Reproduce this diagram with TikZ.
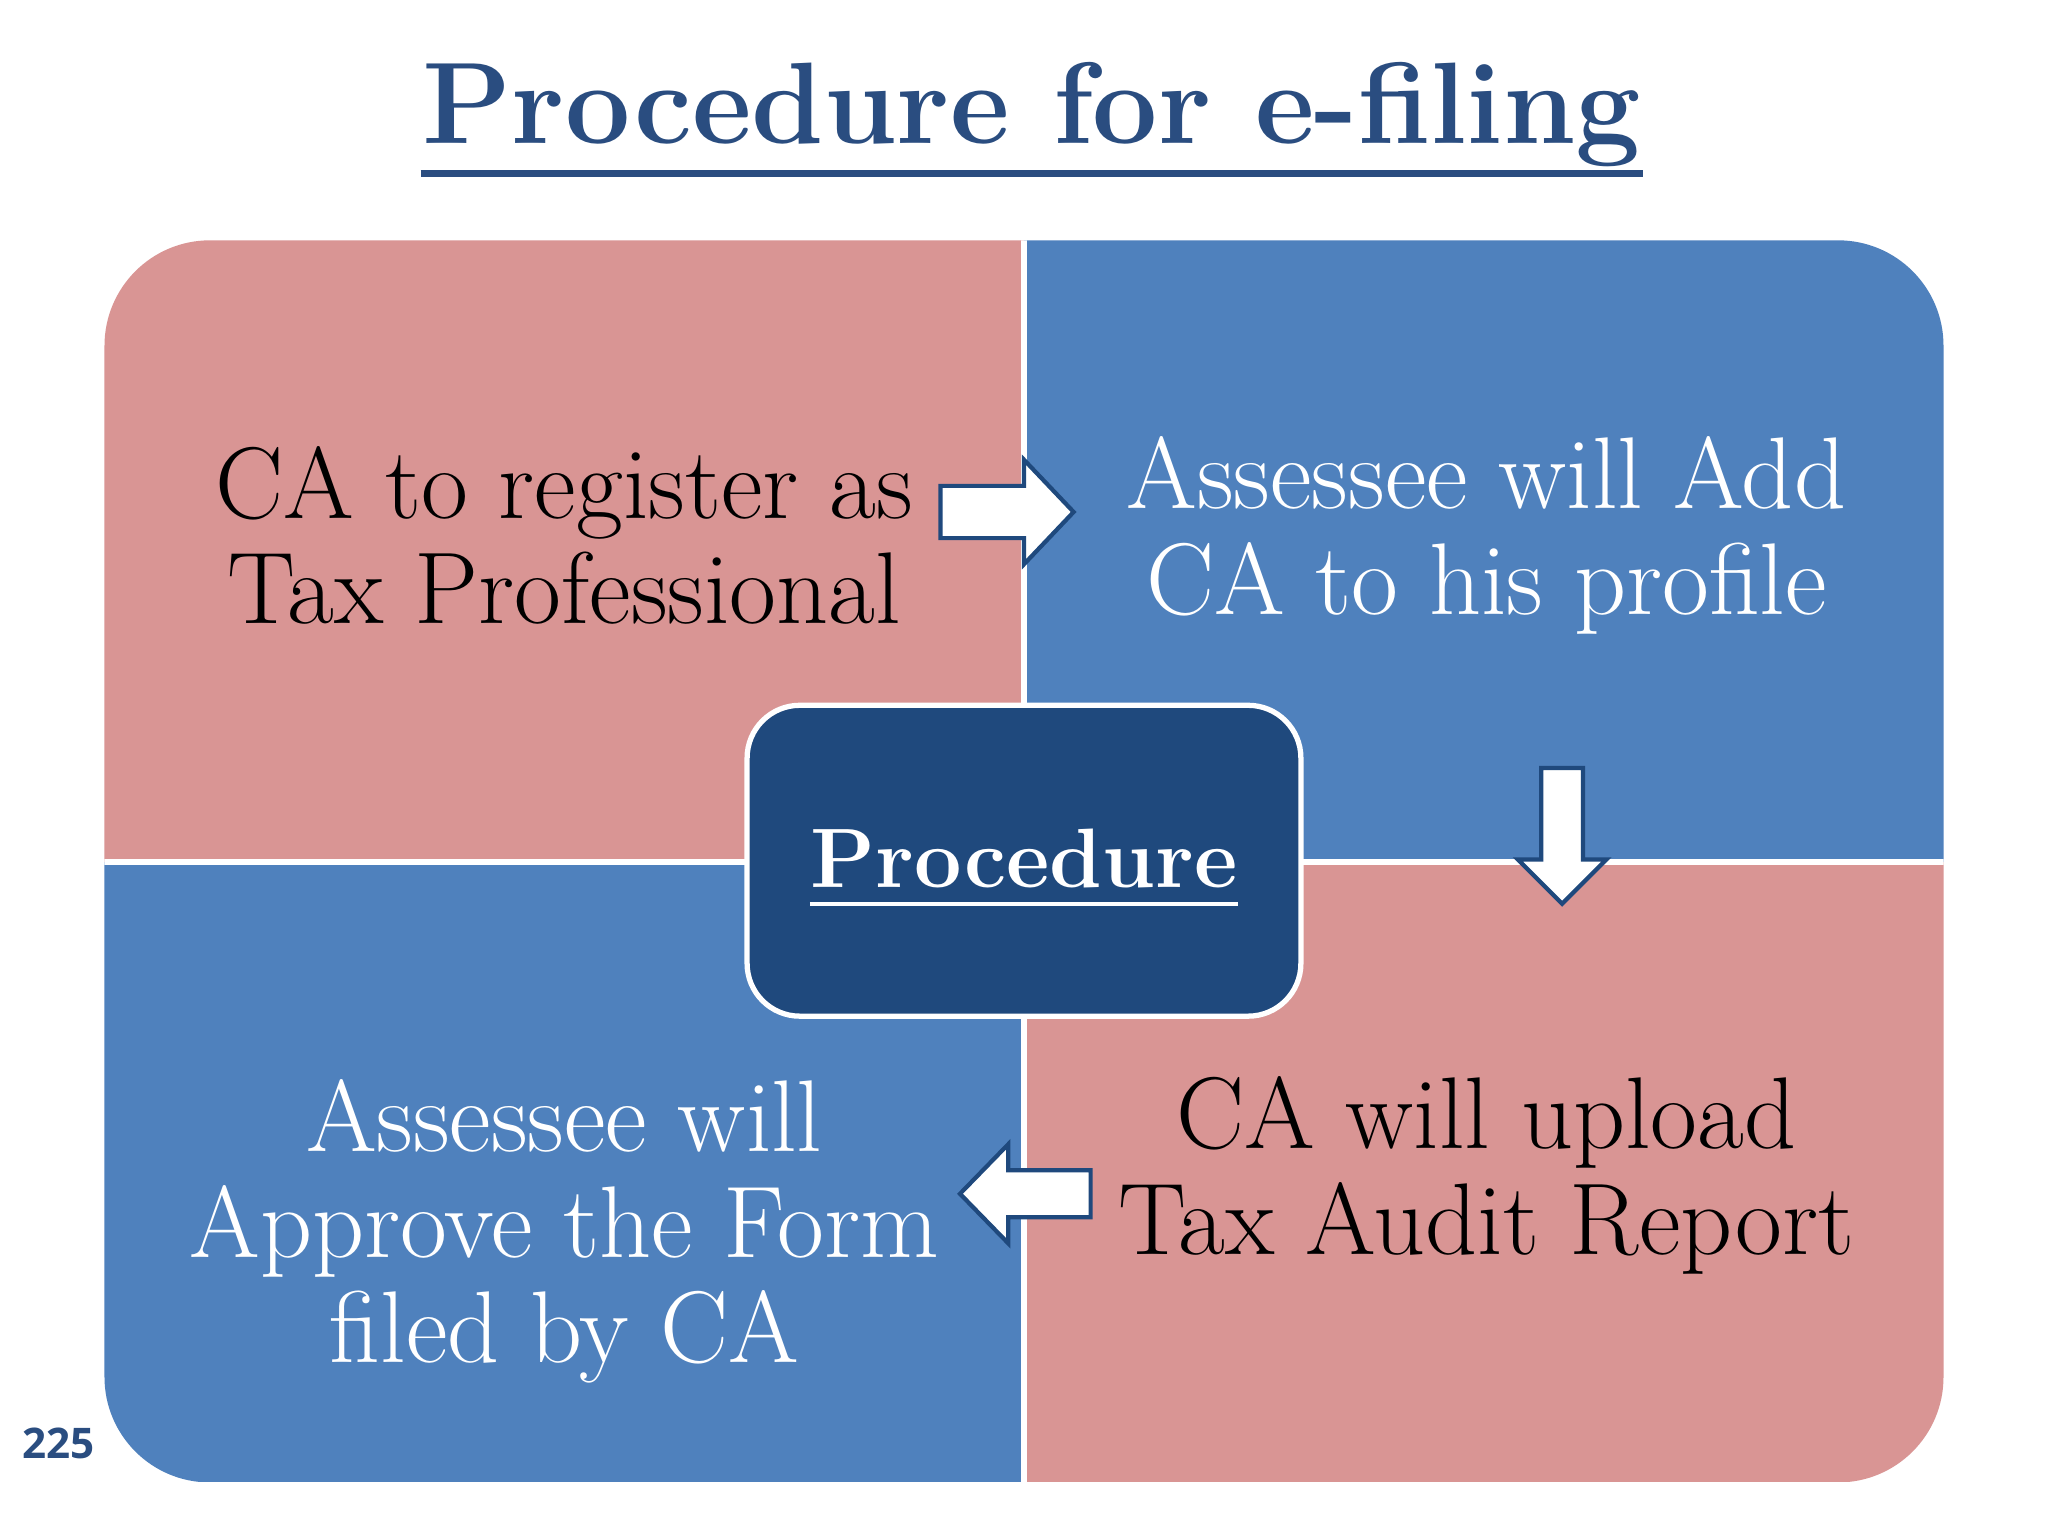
\documentclass[tikz,border=0pt]{standalone}
\usepackage{fontspec}
\setsansfont{Open Sans}
\definecolor{pinkq}{HTML}{D99594}
\definecolor{blueq}{HTML}{4F81BD}
\definecolor{navy}{HTML}{1F497D}
\definecolor{titleblue}{HTML}{2A4D80}
\begin{document}
\begin{tikzpicture}[x=0.013061cm,y=-0.013061cm,
  quadtext/.style={align=center,font=\fontsize{29}{30}\selectfont},
  blockarrow/.style={draw=navy,fill=white,line width=1.2pt,line join=miter}]
\useasboundingbox (0,0) rectangle (1568,1176);
\fill[white] (0,0) rectangle (1568,1176);
% title
\node[text=titleblue,font=\fontsize{33}{40}\selectfont\bfseries] (title) at (790,88) {Procedure for e-filing};
\draw[titleblue,line width=2pt] (322,133) -- (1258,133);
% quadrants
\begin{scope}
\clip[rounded corners=30pt] (80,184) rectangle (1488,1135);
\fill[pinkq] (80,184) rectangle (784,660);
\fill[blueq] (784,184) rectangle (1488,660);
\fill[blueq] (80,660) rectangle (784,1135);
\fill[pinkq] (784,660) rectangle (1488,1135);
\draw[white,line width=1.5pt] (784,184) -- (784,1135);
\draw[white,line width=1.5pt] (80,660) -- (1488,660);
\end{scope}
% center
\draw[fill=navy,draw=white,line width=1.5pt,rounded corners=15pt] (572,540) rectangle (996,778);
\node[text=white,font=\fontsize{24}{30}\selectfont\bfseries] (proc) at (784,657) {Procedure};
\draw[white,line width=1.3pt] (620,692) -- (948,692);
% texts
\node[quadtext,text=black] (tl) at (432,410) {CA to register as\\Tax Professional};
\node[quadtext,text=white] (tr) at (1138,410) {Assessee will Add\\CA to his profile};
\node[quadtext,text=black] (br) at (1138,900) {CA will upload\\Tax Audit Report};
\node[quadtext,text=white] (bl) at (432,943) {Assessee will\\Approve the Form\\filed by CA};
% arrows
\draw[blockarrow] (720,372) -- (784,372) -- (784,352) -- (822,392) -- (784,432) -- (784,412) -- (720,412) -- cycle;
\draw[blockarrow] (1180,588) -- (1212,588) -- (1212,658) -- (1230,658) -- (1196,692) -- (1162,658) -- (1180,658) -- cycle;
\draw[blockarrow] (835,896) -- (772,896) -- (772,876) -- (735,914) -- (772,952) -- (772,932) -- (835,932) -- cycle;
% page number
\node[text=titleblue,font=\sffamily\bfseries\fontsize{12}{14}\selectfont] (pg) at (45,1105) {225};
\end{tikzpicture}
\end{document}
